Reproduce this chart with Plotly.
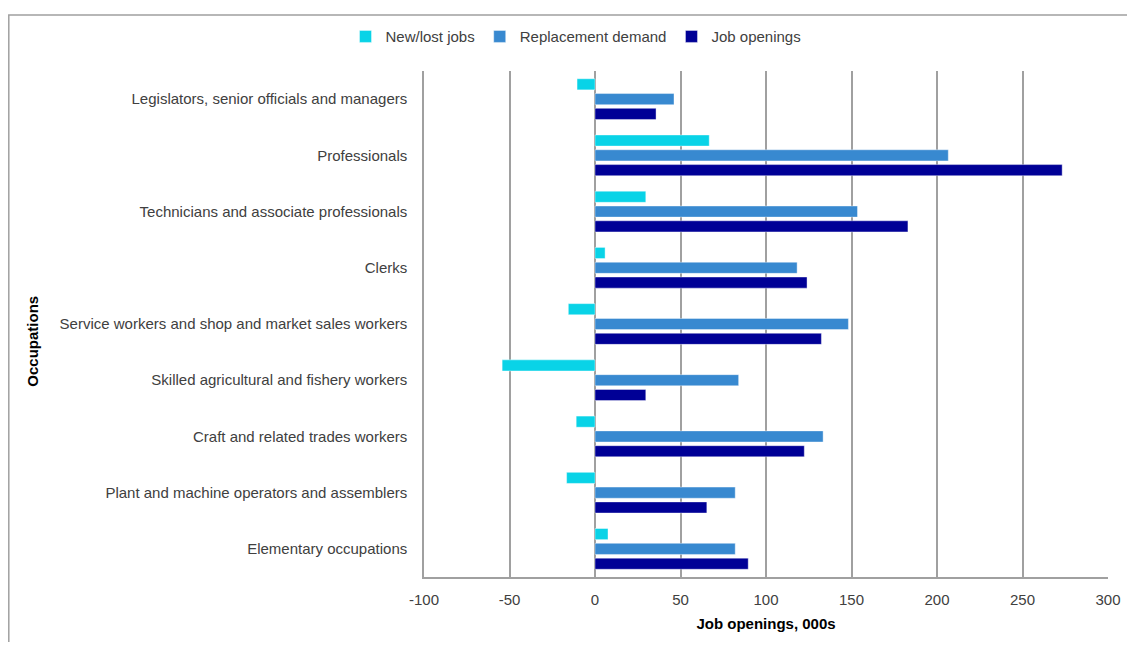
import plotly.graph_objects as go

categories = [
    "Legislators, senior officials and managers",
    "Professionals",
    "Technicians and associate professionals",
    "Clerks",
    "Service workers and shop and market sales workers",
    "Skilled agricultural and fishery workers",
    "Craft and related trades workers",
    "Plant and machine operators and assemblers",
    "Elementary occupations",
]
new_lost_jobs = [-10.5, 66.8, 29.7, 5.9, -15.6, -54.3, -11.0, -16.6, 7.6]
replacement_demand = [46.2, 206.6, 153.5, 118.2, 148.2, 84.0, 133.4, 82.0, 82.0]
job_openings = [35.7, 273.2, 183.0, 124.0, 132.4, 29.7, 122.4, 65.4, 89.6]
x_ticks = [-100, -50, 0, 50, 100, 150, 200, 250, 300]

series = [
    ("New/lost jobs", new_lost_jobs, "#09D3E7"),
    ("Replacement demand", replacement_demand, "#3889D0"),
    ("Job openings", job_openings, "#000096"),
]

fig = go.Figure()
for name, vals, col in series:
    fig.add_trace(go.Bar(
        y=categories, x=vals, name=name, orientation="h",
        marker=dict(color=col, line=dict(color="rgba(255,255,255,0.5)", width=0.8)),
    ))

# page body has an 8px margin, so the figure is offset by 8px
OFF = 8
W, H = 1135 - OFF, 650 - 2 * OFF
# plot area in window pixel coordinates
PX0, PX1, PY0, PY1 = 424, 1108, 66, 582
L, R, T, B = PX0 - OFF, 1135 - PX1, PY0 - OFF, H + OFF - PY1
pw, ph = W - L - R, H - T - B

def px_x(p):
    return (p - OFF - L) / pw

def px_y(p):
    return (H - B - (p - OFF)) / ph

FS = 15

fig.update_layout(
    width=W, height=H,
    margin=dict(l=L, r=R, t=T, b=B),
    paper_bgcolor="white", plot_bgcolor="white",
    barmode="group", bargap=0.21, bargroupgap=0.25,
    font=dict(family="Liberation Sans, Arial, sans-serif", size=FS, color="#404040"),
    showlegend=True,
    legend=dict(orientation="h", x=px_x(576), y=px_y(31), xanchor="center", yanchor="middle",
                font=dict(size=FS, color="#404040"), itemwidth=30, traceorder="normal"),
    xaxis=dict(
        range=[-100, 300], tickvals=x_ticks, ticktext=[str(v) for v in x_ticks],
        showgrid=True, gridcolor="#A0A0A0", gridwidth=1.5,
        zeroline=True, zerolinecolor="#A0A0A0", zerolinewidth=1.5,
        showline=True, linecolor="#A0A0A0", linewidth=1.5,
        ticks="", ticklabelstandoff=8,
        tickfont=dict(size=FS, color="#404040"),
        title=dict(text="<b>Job openings, 000s</b>", font=dict(size=FS, color="#000000"), standoff=12),
        fixedrange=True,
    ),
    yaxis=dict(
        categoryorder="array", categoryarray=categories, autorange="reversed",
        showgrid=False, showline=True, linecolor="#A0A0A0", linewidth=1.5,
        ticks="", ticklabelstandoff=12,
        tickfont=dict(size=FS, color="#404040"),
        fixedrange=True,
    ),
    annotations=[dict(
        text="<b>Occupations</b>", textangle=-90, showarrow=False,
        xref="paper", yref="paper", x=px_x(33), y=px_y(342),
        xanchor="center", yanchor="middle",
        font=dict(size=FS, color="#000000"),
    )],
    shapes=[dict(
        type="path", xref="paper", yref="paper",
        path=(f"M {px_x(8.8)} {px_y(700)} L {px_x(8.8)} {px_y(8.8)} "
              f"L {px_x(1200)} {px_y(8.8)}"),
        line=dict(color="#A0A0A0", width=1.5),
    )],
)

fig.write_html("out.html")
